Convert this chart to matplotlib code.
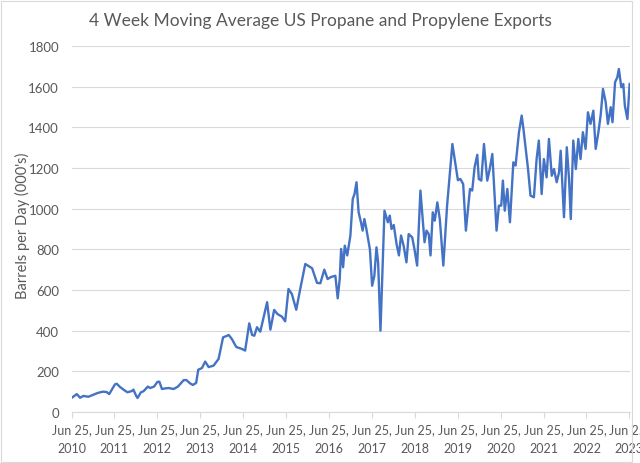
import matplotlib
matplotlib.use("Agg")
import matplotlib.pyplot as plt
import pandas as pd
from matplotlib.patches import Rectangle

title = "4 Week Moving Average US Propane and Propylene Exports"
ylabel = "Barrels per Day (000's)"

dates = [
    "2010-06-25", "2010-08-09", "2010-09-06", "2010-10-04", "2010-11-16", "2010-12-28",
    "2011-01-27", "2011-02-24", "2011-03-22", "2011-04-21", "2011-05-12", "2011-06-03",
    "2011-06-30", "2011-07-15", "2011-08-12", "2011-09-16", "2011-10-14", "2011-11-21",
    "2011-12-04", "2011-12-27", "2012-01-08", "2012-02-06", "2012-02-28", "2012-04-05",
    "2012-04-24", "2012-05-28", "2012-06-25", "2012-07-12", "2012-08-03", "2012-08-30",
    "2012-09-28", "2012-11-10", "2012-12-17", "2013-02-04", "2013-02-27", "2013-03-30",
    "2013-04-23", "2013-05-21", "2013-06-08", "2013-07-09", "2013-08-06", "2013-09-04",
    "2013-10-16", "2013-11-28", "2014-01-05", "2014-02-09", "2014-02-22", "2014-03-21",
    "2014-04-27", "2014-06-15", "2014-07-12", "2014-08-16", "2014-09-09", "2014-09-28",
    "2014-10-21", "2014-11-18", "2014-12-16", "2015-01-15", "2015-02-12", "2015-03-16",
    "2015-04-13", "2015-05-21", "2015-06-18", "2015-07-16", "2015-08-14", "2015-09-20",
    "2015-10-24", "2015-12-06", "2016-02-02", "2016-03-15", "2016-04-12", "2016-05-16",
    "2016-06-13", "2016-07-12", "2016-08-18", "2016-09-07", "2016-09-24", "2016-10-06",
    "2016-10-23", "2016-11-06", "2016-11-27", "2016-12-24", "2017-01-13", "2017-01-28",
    "2017-02-14", "2017-03-04", "2017-03-24", "2017-04-07", "2017-04-22", "2017-05-09",
    "2017-05-28", "2017-06-08", "2017-06-27", "2017-07-16", "2017-08-03", "2017-08-17",
    "2017-09-06", "2017-10-10", "2017-11-08", "2017-11-24", "2017-12-09", "2017-12-28",
    "2018-01-21", "2018-02-10", "2018-02-28", "2018-03-22", "2018-04-15", "2018-05-04",
    "2018-06-03", "2018-06-22", "2018-07-15", "2018-08-12", "2018-09-16", "2018-10-03",
    "2018-10-22", "2018-11-06", "2018-11-25", "2018-12-12", "2019-01-03", "2019-01-24",
    "2019-02-23", "2019-03-27", "2019-05-11", "2019-06-12", "2019-06-27", "2019-07-18",
    "2019-08-11", "2019-09-03", "2019-10-08", "2019-10-27", "2019-11-16", "2019-12-09",
    "2019-12-22", "2020-01-12", "2020-02-04", "2020-03-03", "2020-03-24", "2020-04-15",
    "2020-04-28", "2020-05-21", "2020-06-10", "2020-06-30", "2020-07-14", "2020-07-30",
    "2020-08-21", "2020-09-12", "2020-10-11", "2020-10-30", "2020-11-28", "2020-12-21",
    "2021-01-05", "2021-01-24", "2021-02-13", "2021-03-06", "2021-04-04", "2021-04-27",
    "2021-05-16", "2021-06-09", "2021-06-28", "2021-07-21", "2021-08-10", "2021-09-03",
    "2021-09-22", "2021-10-15", "2021-11-04", "2021-11-18", "2021-12-16", "2022-01-09",
    "2022-01-28", "2022-02-12", "2022-03-05", "2022-03-27", "2022-04-17", "2022-05-06",
    "2022-05-26", "2022-06-18", "2022-07-08", "2022-07-30", "2022-08-23", "2022-09-12",
    "2022-10-05", "2022-10-24", "2022-11-13", "2022-12-06", "2022-12-25", "2023-01-18",
    "2023-02-02", "2023-02-24", "2023-03-15", "2023-03-28", "2023-04-18", "2023-05-05",
    "2023-05-18", "2023-06-09", "2023-06-28",
]

exports = [
    69, 88, 70, 79, 75, 85,
    92, 97, 100, 98, 88, 110,
    136, 139, 123, 108, 97, 103,
    110, 80, 69, 97, 102, 125,
    118, 125, 148, 149, 113, 116,
    118, 113, 125, 157, 157, 141,
    133, 143, 208, 216, 248, 221,
    228, 261, 367, 375, 379, 359,
    320, 310, 302, 436, 379, 375,
    417, 395, 466, 540, 405, 502,
    482, 469, 446, 605, 580, 503,
    605, 728, 707, 635, 633, 700,
    654, 664, 670, 559, 654, 802,
    712, 818, 770, 868, 1048, 1072,
    1130, 982, 933, 892, 949, 900,
    835, 800, 621, 670, 810, 736,
    400, 990, 933, 966, 900, 920,
    826, 770, 868, 818, 736, 875,
    859, 802, 720, 1089, 835, 892,
    875, 770, 982, 941, 1031, 949,
    720, 1015, 1318, 1195, 1140, 1146,
    1121, 892, 1097, 1089, 1203, 1265,
    1146, 1138, 1318, 1138, 1195, 1269,
    1130, 892, 1015, 1015, 1138, 990,
    1097, 933, 1228, 1212, 1376, 1458,
    1392, 1294, 1195, 1064, 1056, 1244,
    1335, 1072, 1244, 1154, 1343, 1162,
    1195, 1130, 1179, 1285, 958, 1302,
    1146, 949, 1335, 1195, 1343, 1244,
    1376, 1294, 1474, 1417, 1482, 1294,
    1376, 1458, 1589, 1524, 1417, 1499,
    1425, 1622, 1646, 1687, 1597, 1613,
    1507, 1441, 1613,
]

tick_years = list(range(2010, 2024))
tick_labels = [f"Jun 25,\n{y}" for y in tick_years]
y_ticks = [0, 200, 400, 600, 800, 1000, 1200, 1400, 1600, 1800]

plt.rcParams['font.family'] = ['Lato', 'DejaVu Sans']
text_color = "#595959"
grid_color = "#D9D9D9"
line_color = "#4472C4"

fig = plt.figure(figsize=(6.4, 4.64), dpi=100)
ax = fig.add_axes([71.5 / 640, 1 - 413 / 464, (630 - 71.5) / 640, (413 - 47) / 464])

x = pd.to_datetime(dates)
ax.plot(x, exports, color=line_color, linewidth=1.7, solid_joinstyle="round")

ax.set_ylim(0, 1800)
ax.set_yticks(y_ticks)
ax.set_xlim(pd.Timestamp("2010-06-25"), pd.Timestamp("2023-07-01"))
tick_dates = [pd.Timestamp(f"{y}-06-25") for y in tick_years]
ax.set_xticks(tick_dates)
ax.set_xticklabels(tick_labels)

ax.grid(axis="y", color=grid_color, linewidth=0.8)
ax.set_axisbelow(True)
for s in ["top", "right", "left"]:
    ax.spines[s].set_visible(False)
ax.spines["bottom"].set_color(grid_color)
ax.spines["bottom"].set_linewidth(0.8)

ax.tick_params(axis="y", length=0, pad=9, labelsize=9.5, labelcolor=text_color)
ax.tick_params(axis="x", length=4, width=0.8, color=grid_color, pad=4,
               labelsize=9, labelcolor=text_color)
for lbl in ax.get_xticklabels():
    lbl.set_linespacing(1.65)

fig.text(0.5, 1 - 21 / 464, title, ha="center", va="center", fontsize=12.5, color=text_color)
fig.text(22 / 640, 1 - 226 / 464, ylabel, ha="center", va="center", rotation=90,
         fontsize=10.5, color=text_color)

fig.add_artist(Rectangle((0.5 / 640, 1.5 / 464), 631.5 / 640, 461 / 464,
                         transform=fig.transFigure, fill=False,
                         edgecolor="#D9D9D9", linewidth=0.8))

fig.savefig("out.png", dpi=100)
